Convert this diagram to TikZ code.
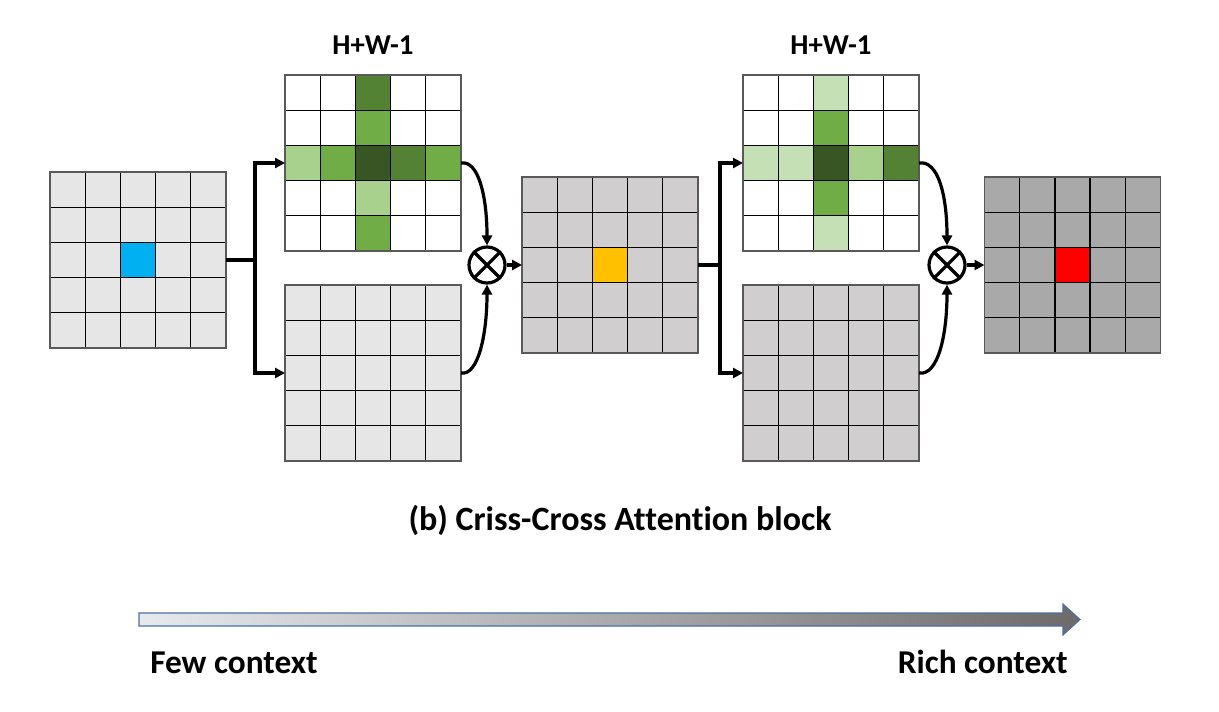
\documentclass[tikz,border=0pt]{standalone}
\usepackage{fontspec}
\setmainfont[Ligatures={NoCommon,NoDiscretionary,NoContextual}]{Carlito}
\usetikzlibrary{arrows.meta,calc}
\definecolor{lg}{HTML}{E7E6E6}
\definecolor{mg}{HTML}{D0CECE}
\definecolor{dg}{HTML}{A9A9A9}
\definecolor{bluec}{HTML}{00B0F0}
\definecolor{orangec}{HTML}{FFC000}
\definecolor{redc}{HTML}{FF0000}
\definecolor{gA}{HTML}{C5E0B4}
\definecolor{gB}{HTML}{A9D18E}
\definecolor{gC}{HTML}{70AD47}
\definecolor{gD}{HTML}{548235}
\definecolor{gE}{HTML}{375623}
\definecolor{arrL}{HTML}{E6E9EE}
\definecolor{arrR}{HTML}{6E6A6A}
\definecolor{arrB}{HTML}{4A6FA5}
\newcommand\cellfill[4]{\fill[#4] ($(#1.north west)+({(#2-1)*35.2},{(#3-1)*35.2})$) rectangle +(35.2,35.2);}
\newcommand\gridlines[1]{%
  \foreach \k in {1,...,4}{%
    \draw[gline] ($(#1.north west)+({\k*35.2},0)$) -- +(0,176);
    \draw[gline] ($(#1.north west)+(0,{\k*35.2})$) -- +(176,0);
  }%
  \draw[gborder] (#1.north west) rectangle (#1.south east);}
\begin{document}
\begin{tikzpicture}[x=0.75pt,y=-0.75pt,
  gridbox/.style={minimum width=132pt,minimum height=132pt,inner sep=0pt,outer sep=0pt},
  gline/.style={line width=1pt,black},
  gborder/.style={line width=1.2pt,black!65},
  conn/.style={line width=2.4pt,black},
  tip/.style={-{Triangle[length=7.5pt,width=7.5pt]}},
  otimesnode/.style={circle,draw,line width=2.4pt,minimum size=27pt,inner sep=0pt},
  lbl/.style={font=\bfseries\fontsize{21.6}{26}\selectfont},
  ttl/.style={font=\bfseries\fontsize{25.5}{30}\selectfont},
  ctx/.style={font=\bfseries\fontsize{25}{30}\selectfont}]
\useasboundingbox (0,0) rectangle (1219,711);
% grids
\node[gridbox,fill=lg] (g1) at (138,260) {};
\node[gridbox,fill=white] (g2) at (373,163) {};
\node[gridbox,fill=lg] (g3) at (373,373) {};
\node[gridbox,fill=mg] (g4) at (610,265) {};
\node[gridbox,fill=white] (g5) at (831,163) {};
\node[gridbox,fill=mg] (g6) at (831,373) {};
\node[gridbox,fill=dg] (g7) at (1072.5,265) {};
\cellfill{g1}{3}{3}{bluec}
\cellfill{g4}{3}{3}{orangec}
\cellfill{g7}{3}{3}{redc}
% green cross 1
\cellfill{g2}{3}{1}{gD}
\cellfill{g2}{3}{2}{gC}
\cellfill{g2}{1}{3}{gB}
\cellfill{g2}{2}{3}{gC}
\cellfill{g2}{3}{3}{gE}
\cellfill{g2}{4}{3}{gD}
\cellfill{g2}{5}{3}{gC}
\cellfill{g2}{3}{4}{gB}
\cellfill{g2}{3}{5}{gC}
% green cross 2
\cellfill{g5}{3}{1}{gA}
\cellfill{g5}{3}{2}{gC}
\cellfill{g5}{1}{3}{gA}
\cellfill{g5}{2}{3}{gA}
\cellfill{g5}{3}{3}{gE}
\cellfill{g5}{4}{3}{gB}
\cellfill{g5}{5}{3}{gD}
\cellfill{g5}{3}{4}{gC}
\cellfill{g5}{3}{5}{gA}
\gridlines{g1}\gridlines{g2}\gridlines{g3}\gridlines{g4}\gridlines{g5}\gridlines{g6}\gridlines{g7}
% otimes
\node[otimesnode] (c1) at (487,265) {};
\node[otimesnode] (c2) at (947,265) {};
\draw[conn] (c1.north west) -- (c1.south east);
\draw[conn] (c1.north east) -- (c1.south west);
\draw[conn] (c2.north west) -- (c2.south east);
\draw[conn] (c2.north east) -- (c2.south west);
% connectors
\coordinate (b1) at (255,260);
\coordinate (b2) at (720,265);
\draw[conn] (g1.east) -- (b1);
\draw[conn,tip] (b1) |- (g2.west);
\draw[conn,tip] (b1) |- (g3.west);
\draw[conn,tip] (g2.east) .. controls (478,160) and (487,195) .. (c1.north);
\draw[conn,tip] (g3.east) .. controls (478,376) and (487,335) .. (c1.south);
\draw[conn,tip] (c1.east) -- (g4.west);
\draw[conn] (g4.east) -- (b2);
\draw[conn,tip] (b2) |- (g5.west);
\draw[conn,tip] (b2) |- (g6.west);
\draw[conn,tip] (g5.east) .. controls (938,160) and (947,195) .. (c2.north);
\draw[conn,tip] (g6.east) .. controls (938,376) and (947,335) .. (c2.south);
\draw[conn,tip] (c2.east) -- (g7.west);
% labels
\node[lbl] (t1) at (373,45) {H+W-1};
\node[lbl] (t2) at (831,45) {H+W-1};
\node[ttl] (title) at (620,520) {(b) Criss-Cross Attention block};
% context arrow
\path[left color=arrL,right color=arrR,draw=arrB,line width=0.8pt]
  (139,613) -- (1063,613) -- (1063,604) -- (1080,619.5) -- (1063,635) -- (1063,626) -- (139,626) -- cycle;
\node[ctx,anchor=base west,inner sep=0pt] (few) at (150,673) {Few context};
\node[ctx,anchor=base east,inner sep=0pt] (rich) at (1068,673) {Rich context};
\end{tikzpicture}
\end{document}
